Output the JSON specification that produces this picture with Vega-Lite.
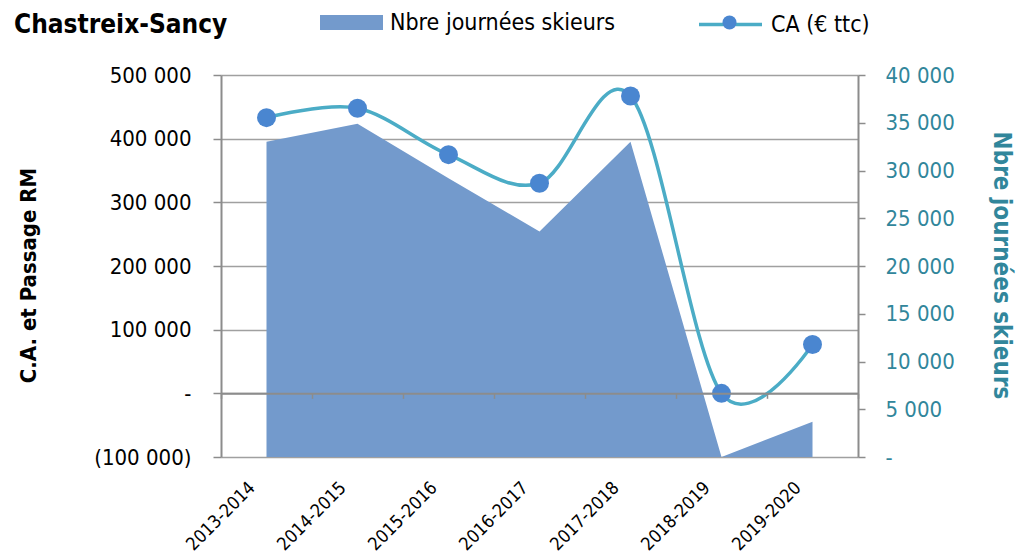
{
  "$schema": "https://vega.github.io/schema/vega-lite/v6.json",
  "width": 637,
  "height": 382,
  "autosize": "none",
  "padding": {"left": 221, "top": 75, "right": 158, "bottom": 101},
  "background": "white",
  "config": {
    "view": {"stroke": null},
    "font": "DejaVu Sans Condensed",
    "axis": {"labelFont": "DejaVu Sans Condensed", "titleFont": "DejaVu Sans Condensed"},
    "legend": {"labelFont": "DejaVu Sans Condensed"}
  },
  "title": {
    "text": "Chastreix-Sancy",
    "anchor": "start",
    "frame": "group",
    "font": "DejaVu Sans Condensed",
    "fontSize": 26,
    "fontWeight": "bold",
    "color": "#000000",
    "dx": -207,
    "dy": 112,
    "offset": 44,
    "baseline": "alphabetic"
  },
  "data": {
    "values": [
      {"saison": "2013-2014", "ca": 433000, "jours": 33000},
      {"saison": "2014-2015", "ca": 447700, "jours": 34900},
      {"saison": "2015-2016", "ca": 374900, "jours": 29200},
      {"saison": "2016-2017", "ca": 330000, "jours": 23600},
      {"saison": "2017-2018", "ca": 467000, "jours": 33000},
      {"saison": "2018-2019", "ca": 0, "jours": 0},
      {"saison": "2019-2020", "ca": 76700, "jours": 3700}
    ]
  },
  "layer": [
    {
      "mark": {"type": "area", "opacity": 1, "interpolate": "linear"},
      "encoding": {
        "x": {
          "field": "saison",
          "type": "nominal",
          "sort": null,
          "bandPosition": 0.5,
          "scale": {"type": "band", "paddingInner": 0, "paddingOuter": 0},
          "axis": {
            "orient": "bottom",
            "title": null,
            "domain": false,
            "ticks": false,
            "tickSize": 0,
            "labelAngle": -45,
            "labelAlign": "right",
            "labelBaseline": "middle",
            "labelOffset": -14,
            "labelPadding": 28,
            "labelFontSize": 18,
            "labelColor": "#000000"
          }
        },
        "y": {
          "field": "jours",
          "type": "quantitative",
          "scale": {"domain": [0, 40000], "nice": false, "zero": true},
          "axis": {
            "orient": "right",
            "values": [0, 5000, 10000, 15000, 20000, 25000, 30000, 35000, 40000],
            "labelExpr": "datum.value == 0 ? '-' : format(datum.value/1000, 'd') + ' 000'",
            "grid": false,
            "domain": true,
            "domainColor": "#8C8C8C",
            "domainWidth": 2,
            "ticks": true,
            "tickColor": "#8C8C8C",
            "tickWidth": 1.5,
            "tickSize": 7,
            "labelPadding": 20,
            "labelFontSize": 22,
            "labelColor": "#31869B",
            "labelAlign": "left",
            "title": "Nbre journées skieurs",
            "titleFontSize": 24,
            "titleFontWeight": "bold",
            "titleColor": "#31869B",
            "titleBaseline": "middle",
            "titleAlign": "center",
            "titleAngle": 90,
            "titleX": 142,
            "titleY": 190
          }
        },
        "fill": {
          "datum": "Nbre journées skieurs",
          "scale": {"range": ["#739ACC"]},
          "legend": {
            "orient": "none",
            "legendX": 99,
            "legendY": -84,
            "title": null,
            "symbolType": "M-1,-0.24H1V0.24H-1Z",
            "symbolSize": 3969,
            "symbolStrokeWidth": 0,
            "symbolOpacity": 1,
            "labelFontSize": 23,
            "labelLimit": 500,
            "labelColor": "#000000",
            "labelOffset": 7,
            "padding": 0
          }
        }
      }
    },
    {
      "encoding": {
        "x": {
          "field": "saison",
          "type": "nominal",
          "sort": null,
          "bandPosition": 0.5,
          "scale": {"type": "band", "paddingInner": 0, "paddingOuter": 0},
          "axis": {
            "orient": "bottom",
            "offset": -63.7,
            "title": null,
            "labels": false,
            "domain": true,
            "domainColor": "#8C8C8C",
            "domainWidth": 2,
            "ticks": true,
            "tickBand": "extent",
            "tickColor": "#8C8C8C",
            "tickWidth": 1.5,
            "tickSize": 5,
            "zindex": 1
          }
        },
        "y": {
          "field": "ca",
          "type": "quantitative",
          "scale": {"domain": [-100000, 500000], "nice": false},
          "axis": {
            "orient": "left",
            "values": [-100000, 0, 100000, 200000, 300000, 400000, 500000],
            "labelExpr": "datum.value == 0 ? '-' : datum.value < 0 ? '(' + format(-datum.value/1000, 'd') + ' 000)' : format(datum.value/1000, 'd') + ' 000'",
            "grid": true,
            "gridColor": "#A0A0A0",
            "gridWidth": 1.5,
            "domain": true,
            "domainColor": "#8C8C8C",
            "domainWidth": 2,
            "ticks": true,
            "tickColor": "#8C8C8C",
            "tickWidth": 1.5,
            "tickSize": 8,
            "labelPadding": 22,
            "labelFontSize": 22,
            "labelColor": "#000000",
            "title": "C.A. et Passage RM",
            "titleFontSize": 22,
            "titleFontWeight": "bold",
            "titleColor": "#000000",
            "titleBaseline": "middle",
            "titleAlign": "center",
            "titleAngle": -90,
            "titleX": -193,
            "titleY": 200
          }
        }
      },
      "layer": [
        {
          "mark": {"type": "line", "interpolate": "cardinal", "strokeWidth": 3.5},
          "encoding": {
            "stroke": {
              "datum": "CA (€ ttc)",
              "scale": {"range": ["#4BACC6"]},
              "legend": {
                "orient": "none",
                "legendX": 476,
                "legendY": -84,
                "title": null,
                "symbolType": "M-1,0H1",
                "symbolSize": 3969,
                "symbolStrokeWidth": 3.5,
                "symbolOpacity": 1,
                "labelFontSize": 23,
                "labelLimit": 500,
                "labelColor": "#000000",
                "labelOffset": 7,
                "padding": 0
              }
            }
          }
        },
        {
          "mark": {"type": "point", "filled": true, "opacity": 1, "size": 360, "shape": "circle"},
          "encoding": {
            "color": {
              "datum": "points CA",
              "scale": {"range": ["#4A86D0"]},
              "legend": {
                "orient": "none",
                "legendX": 497,
                "legendY": -64,
                "title": null,
                "symbolType": "circle",
                "symbolSize": 196,
                "symbolStrokeWidth": 0,
                "symbolOpacity": 1,
                "labelFontSize": 23,
                "labelExpr": "''",
                "labelColor": "transparent",
                "labelOffset": 7,
                "padding": 0,
                "zindex": 1
              }
            }
          }
        }
      ]
    }
  ],
  "resolve": {"scale": {"y": "independent"}, "axis": {"x": "independent"}}
}
